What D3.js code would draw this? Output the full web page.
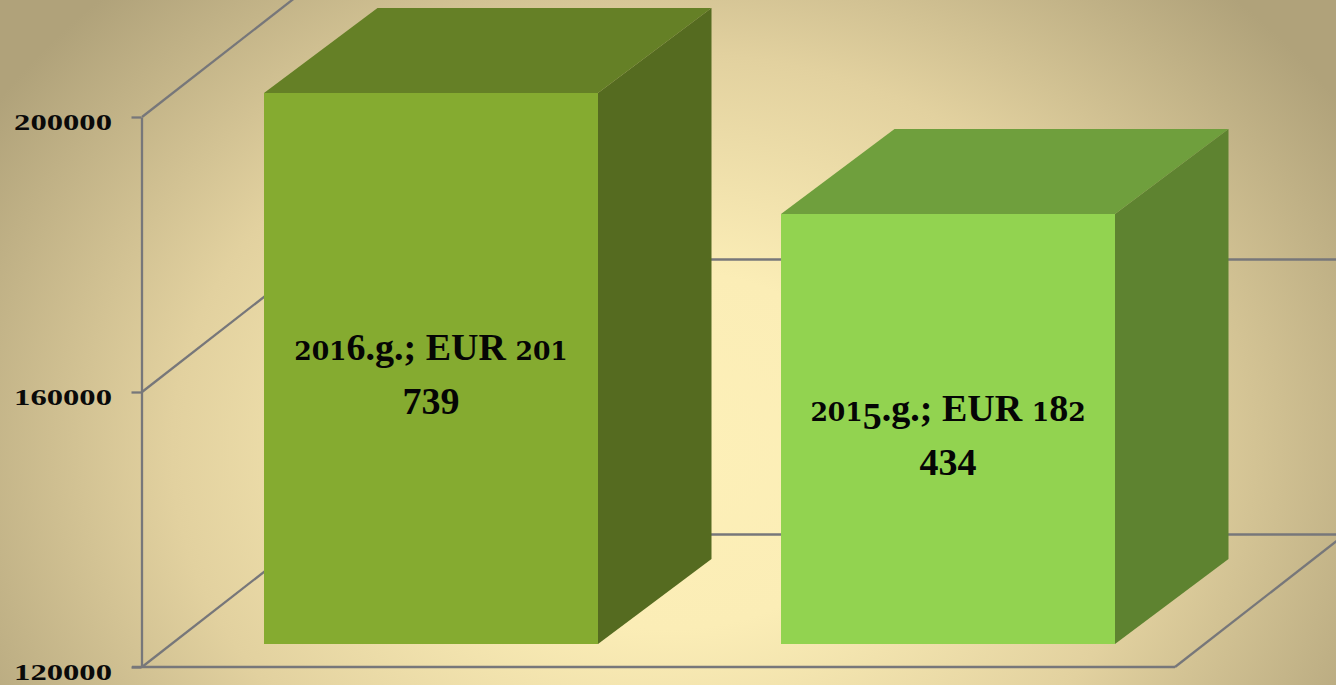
<!DOCTYPE html>
<html><head><meta charset="utf-8">
<style>html,body{margin:0;padding:0;background:#fdf0b8;overflow:hidden}svg{display:block}</style>
<script src="https://cdn.jsdelivr.net/npm/d3@7/dist/d3.min.js"></script>
</head><body><svg id="c" width="1336" height="685"></svg>
<script>
const years = ["2016.g.", "2015.g."];
const values = [201739, 182434];
const labelLine1 = ["2016.g.; EUR 201", "2015.g.; EUR 182"];
const labelLine2 = ["739", "434"];
const frontColors = ["#85ab30", "#92d350"];
const topColors = ["#658026", "#6f9f3d"];
const sideColors = ["#556b20", "#5e8330"];
const tickValues = [120000, 160000, 200000];
const axisDomain = [120000, 200000];
const barDomain = [120000, 182434, 201739];

const W = 1336, H = 685;
const svg = d3.select("#c");
const defs = svg.append("defs");
const g = defs.append("radialGradient").attr("id","bg").attr("gradientUnits","userSpaceOnUse")
  .attr("cx",0).attr("cy",0).attr("r",1)
  .attr("gradientTransform","translate(668,450) scale(800,640)");
[[0,"#fdf0b8"],[.28,"#fbedb6"],[.62,"#e2d19f"],[1,"#b0a27a"]].forEach(s=>g.append("stop").attr("offset",s[0]).attr("stop-color",s[1]));
svg.append("rect").attr("width",W).attr("height",H).attr("fill","url(#bg)");

const y = d3.scaleLinear().domain(axisDomain).range([667,117]);
const yBar = d3.scaleLinear().domain(barDomain).range([644,214,93]);
const barW = 334, stepX = 517;
const barX = i => 264 + i*stepX;
const wallDx = 170, wallDy = 132.5, barDx = 113.5, barDy = 85;
const grid = "#77777a";

const lines = svg.append("g").attr("fill","none").attr("stroke",grid).attr("stroke-width",2.3);
tickValues.forEach(v=>{
  lines.append("line").attr("x1",142).attr("y1",y(v)).attr("x2",142+wallDx).attr("y2",y(v)-wallDy);
  lines.append("line").attr("x1",142+wallDx).attr("y1",y(v)-wallDy).attr("x2",W).attr("y2",y(v)-wallDy);
});
lines.append("line").attr("x1",1175).attr("y1",y(120000)).attr("x2",1175+wallDx).attr("y2",y(120000)-wallDy);

const axis = svg.append("g").attr("transform","translate(141.5,0)")
  .call(d3.axisLeft(y).tickValues(tickValues).tickSize(10).tickSizeOuter(0).tickFormat(d3.format("d")));
axis.selectAll("path,line").attr("stroke",grid).attr("stroke-width",2.3);
svg.append("line").attr("x1",132).attr("x2",1175).attr("y1",y(120000)).attr("y2",y(120000)).attr("stroke",grid).attr("stroke-width",2.3);
axis.selectAll("text").each(function(d){
  d3.select(this).attr("x",null).attr("dy",null).attr("y",null)
    .attr("text-anchor","end").attr("fill","#0a0a0a")
    .style("font-family","'Liberation Serif'").style("font-weight","bold").style("font-size","23px")
    .attr("transform","translate(-29.5,12.5) scale(1.42,1)");
});

const bars = svg.append("g").selectAll("g").data(values).join("g");
bars.append("polygon").attr("fill",(d,i)=>topColors[i]).attr("points",(d,i)=>{
  const l=barX(i),r=l+barW,t=yBar(d);
  return [[l,t],[l+barDx,t-barDy],[r+barDx,t-barDy],[r,t]].join(" ");
});
bars.append("polygon").attr("fill",(d,i)=>sideColors[i]).attr("points",(d,i)=>{
  const r=barX(i)+barW,t=yBar(d),b=yBar(120000);
  return [[r,t],[r+barDx,t-barDy],[r+barDx,b-barDy],[r,b]].join(" ");
});
bars.append("rect").attr("fill",(d,i)=>frontColors[i]).attr("x",(d,i)=>barX(i)).attr("width",barW)
  .attr("y",d=>yBar(d)).attr("height",d=>yBar(120000)-yBar(d));

function oldstyle(sel, str, size){
  let shift = 0;
  for(const ch of str){
    let target=0;
    const t=sel.append("tspan");
    if("012".includes(ch)) t.attr("font-family","'DejaVu Serif'").attr("font-size",size*.66);
    else t.attr("font-size",size);
    if("34579".includes(ch)) target=size*.2;
    t.attr("dy",target-shift).text(ch);
    shift=target;
  }
}
const baseY=[360,421];
values.forEach((v,i)=>{
  const cx=barX(i)+barW/2;
  [labelLine1[i],labelLine2[i]].forEach((s,k)=>{
    const t=svg.append("text").attr("x",cx).attr("y",baseY[i]+k*46).attr("text-anchor","middle")
      .attr("fill","#050505").attr("font-family","'Liberation Serif'").attr("font-weight","bold");
    oldstyle(t,s,38);
  });
});
</script></body></html>
